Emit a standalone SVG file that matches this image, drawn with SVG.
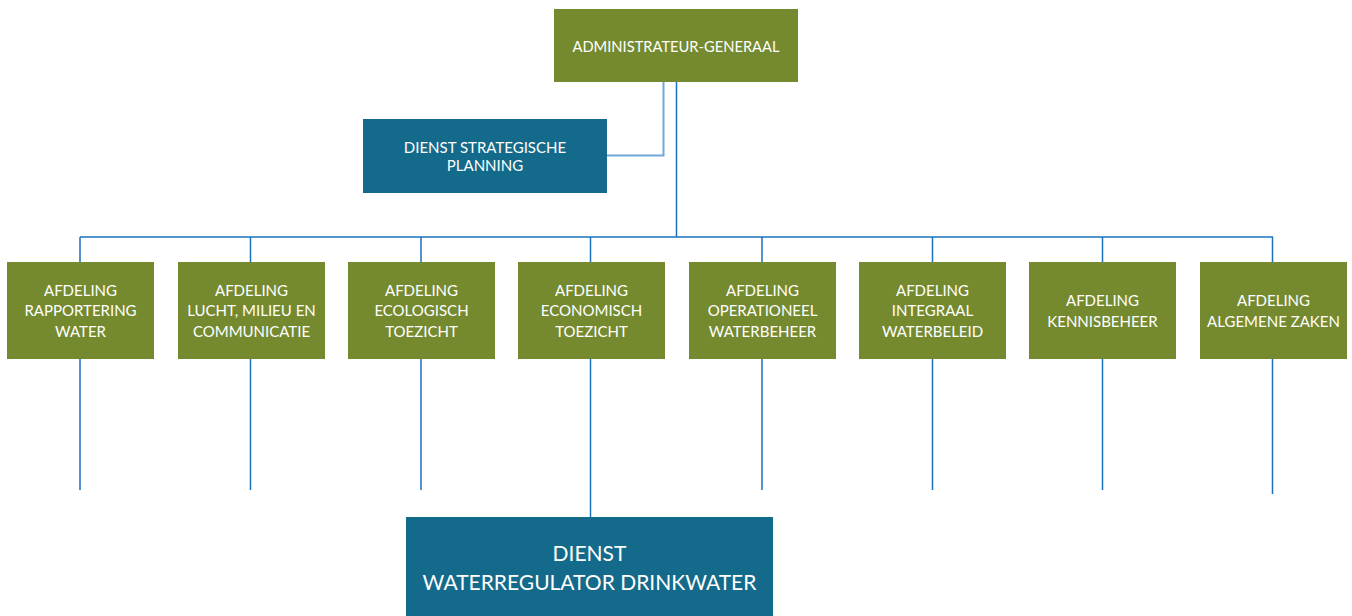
<svg xmlns="http://www.w3.org/2000/svg" width="1352" height="616" viewBox="0 0 1352 616">
<style>
.g{fill:#758a2e}
.b{fill:#136a8a}
.t{fill:#ffffff;font-family:Lato,"Open Sans",sans-serif;font-size:15px;text-anchor:middle}
.big{font-size:21px}
.ln{stroke:#1a72bd;stroke-width:1.5;fill:none}
.lt{stroke:#6ea8da;stroke-width:2;fill:none}
</style>
<rect width="1352" height="616" fill="#ffffff"/>
<g id="connectors">
<path class="lt" d="M663.5 82 V155.5 H607"/>
<path class="ln" d="M676.5 82 V237"/>
<path class="ln" d="M80 237 H1273"/>
<path class="ln" d="M80 237 V262 M250.5 237 V262 M421 237 V262 M590.5 237 V262 M762 237 V262 M932.5 237 V262 M1102.5 237 V262 M1272.5 237 V262"/>
<path class="ln" d="M80 359 V490 M250.5 359 V490 M421 359 V490 M762 359 V490 M932.5 359 V490 M1102.5 359 V490 M1272.5 359 V494"/>
<path class="ln" d="M590.5 359 V517"/>
</g>
<g id="ag"><rect class="g" x="554" y="9" width="244" height="73"/><text class="t" x="676" y="52" textLength="207" lengthAdjust="spacingAndGlyphs">ADMINISTRATEUR-GENERAAL</text></g>
<g id="dsp"><rect class="b" x="363" y="119" width="244" height="74"/><text class="t" x="485" y="153">DIENST STRATEGISCHE</text><text class="t" x="485" y="171">PLANNING</text></g>
<g id="d1"><rect class="g" x="7" y="262" width="147" height="97"/><text class="t" x="80.5" y="295.5">AFDELING</text><text class="t" x="80.5" y="316">RAPPORTERING</text><text class="t" x="80.5" y="336.5">WATER</text></g>
<g id="d2"><rect class="g" x="178" y="262" width="147" height="97"/><text class="t" x="251.5" y="295.5">AFDELING</text><text class="t" x="251.5" y="316">LUCHT, MILIEU EN</text><text class="t" x="251.5" y="336.5">COMMUNICATIE</text></g>
<g id="d3"><rect class="g" x="348" y="262" width="147" height="97"/><text class="t" x="421.5" y="295.5">AFDELING</text><text class="t" x="421.5" y="316">ECOLOGISCH</text><text class="t" x="421.5" y="336.5">TOEZICHT</text></g>
<g id="d4"><rect class="g" x="518" y="262" width="147" height="97"/><text class="t" x="591.5" y="295.5">AFDELING</text><text class="t" x="591.5" y="316">ECONOMISCH</text><text class="t" x="591.5" y="336.5">TOEZICHT</text></g>
<g id="d5"><rect class="g" x="689" y="262" width="147" height="97"/><text class="t" x="762.5" y="295.5">AFDELING</text><text class="t" x="762.5" y="316">OPERATIONEEL</text><text class="t" x="762.5" y="336.5">WATERBEHEER</text></g>
<g id="d6"><rect class="g" x="859" y="262" width="147" height="97"/><text class="t" x="932.5" y="295.5">AFDELING</text><text class="t" x="932.5" y="316">INTEGRAAL</text><text class="t" x="932.5" y="336.5">WATERBELEID</text></g>
<g id="d7"><rect class="g" x="1029" y="262" width="147" height="97"/><text class="t" x="1102.5" y="306">AFDELING</text><text class="t" x="1102.5" y="326.5">KENNISBEHEER</text></g>
<g id="d8"><rect class="g" x="1200" y="262" width="147" height="97"/><text class="t" x="1273.5" y="306">AFDELING</text><text class="t" x="1273.5" y="326.5">ALGEMENE ZAKEN</text></g>
<g id="dwd"><rect class="b" x="406" y="517" width="367" height="99"/><text class="t big" x="589.5" y="561">DIENST</text><text class="t big" x="589.5" y="590">WATERREGULATOR DRINKWATER</text></g>
</svg>
